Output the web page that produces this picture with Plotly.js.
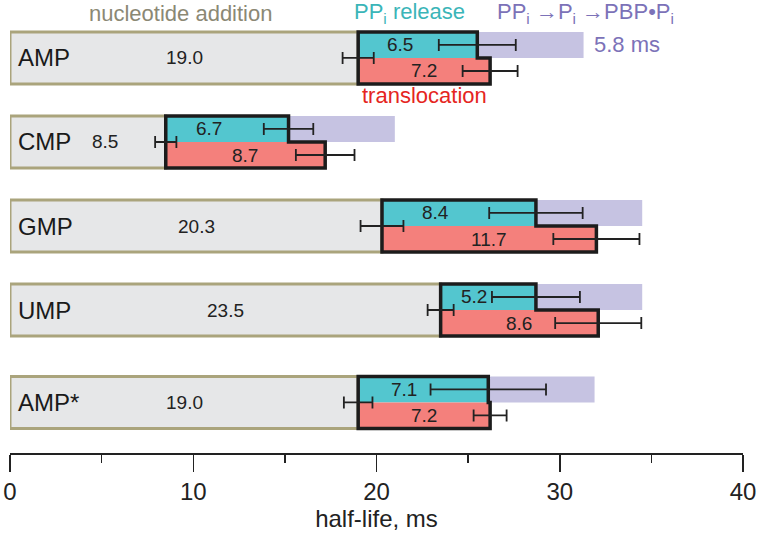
<!DOCTYPE html>
<html>
<head>
<meta charset="utf-8">
<script src="https://cdn.plot.ly/plotly-3.0.1.min.js"></script>
<style>
  body { margin: 0; background: #fff; }
  #plotArea { width: 760px; height: 540px; }
</style>
</head>
<body>
<div id="plotArea"></div>
<script>
// half-lives in ms, one row per nucleotide (AMP* = repeat condition)
let rows = ["AMP", "CMP", "GMP", "UMP", "AMP*"];
let rowGroup = [0, 0, 0, 0, 1];
let nucAdd = [19.0, 8.5, 20.3, 23.5, 19.0];
let nucErr = [0.85, 0.58, 1.17, 0.71, 0.78];
let ppiRel = [6.5, 6.7, 8.4, 5.2, 7.1];
let ppiErr = [2.1, 1.35, 2.55, 2.4, 3.15];
let transl = [7.2, 8.7, 11.7, 8.6, 7.2];
let translErr = [1.5, 1.6, 2.35, 2.35, 0.9];
let pbpTime = [5.8, 5.8, 5.8, 5.8, 5.8];
let xTicks = [0, 10, 20, 30, 40];

let font = "Liberation Sans, Arial, sans-serif";
let half = 0.155;   // offset of the upper / lower half bar
let yPos = rows.map((r, i) => i + 0.1 * rowGroup[i]);
let yTop = yPos.map(v => v - half);
let yBot = yPos.map(v => v + half);
let ppiEnd = nucAdd.map((v, i) => v + ppiRel[i]);
let trEnd = nucAdd.map((v, i) => v + transl[i]);

let grey = {
  type: "bar", orientation: "h", y: yPos, x: nucAdd, base: nucAdd.map(() => 0),
  width: 4 * half, cliponaxis: false,
  marker: { color: "#e6e7e8", line: { color: "#aaa47c", width: 3 } }
};
let purple = {
  type: "bar", orientation: "h", y: yTop, x: pbpTime, base: ppiEnd,
  width: 2 * half, marker: { color: "#c6c3e2", line: { width: 0 } }
};
let cyan = {
  type: "bar", orientation: "h", y: yTop, x: ppiRel, base: nucAdd,
  width: 2 * half, marker: { color: "#53c6cf", line: { width: 0 } }
};
let red = {
  type: "bar", orientation: "h", y: yBot, x: transl, base: nucAdd,
  width: 2 * half, marker: { color: "#f4807c", line: { width: 0 } }
};

// black step outline round the release + translocation blocks
let ox = [], oy = [];
rows.forEach((r, i) => {
  let t = yPos[i] - 2 * half, m = yPos[i], b = yPos[i] + 2 * half;
  ox.push(nucAdd[i], nucAdd[i], ppiEnd[i], ppiEnd[i], trEnd[i], trEnd[i], nucAdd[i], nucAdd[i], null);
  oy.push(m, t, t, m, m, b, b, m, null);
});
let outline = {
  type: "scatter", mode: "lines", x: ox, y: oy, cliponaxis: false,
  line: { color: "#1c1c1c", width: 3.5 }
};

function errTrace(xs, ys, errs) {
  return {
    type: "scatter", mode: "markers", x: xs, y: ys, cliponaxis: false,
    marker: { size: 1, color: "rgba(0,0,0,0)" },
    error_x: { type: "data", array: errs, color: "#222", thickness: 1.8, width: 6 }
  };
}

let data = [grey, purple, cyan, red, outline,
  errTrace(nucAdd, yPos, nucErr),
  errTrace(ppiEnd, yTop, ppiErr),
  errTrace(trEnd, yBot, translErr)];

let ann = [];
rows.forEach((r, i) => {
  ann.push({ x: 0, y: yPos[i], text: r, xanchor: "left", xshift: 6, showarrow: false,
    font: { family: font, size: 24, color: "#1a1a1a" } });
  ann.push({ x: Math.max(nucAdd[i] / 2, 5.2), y: yPos[i], text: nucAdd[i].toFixed(1), showarrow: false,
    font: { family: font, size: 19, color: "#222" } });
  ann.push({ x: nucAdd[i] + 0.35 * ppiRel[i], y: yTop[i], text: ppiRel[i].toFixed(1), showarrow: false,
    font: { family: font, size: 19, color: "#222" } });
  ann.push({ x: nucAdd[i] + transl[i] / 2, y: yBot[i], text: transl[i].toFixed(1), showarrow: false,
    font: { family: font, size: 19, color: "#222" } });
});
// legend-like labels on the first row
ann.push({ x: nucAdd[0] / 2 - 0.2, y: -0.53, text: "nucleotide addition", showarrow: false,
  font: { family: font, size: 22, color: "#8b8874" } });
ann.push({ x: 21.8, y: -0.53, text: "PP<sub>i</sub> release", showarrow: false,
  font: { family: font, size: 22, color: "#3bb5b8" } });
ann.push({ x: 31.4, y: -0.53, text: "PP<sub>i</sub> \u2192P<sub>i</sub> \u2192PBP\u2022P<sub>i</sub>", showarrow: false,
  font: { family: font, size: 22, color: "#7c72b8" } });
ann.push({ x: ppiEnd[0] + pbpTime[0], y: yTop[0], xanchor: "left", xshift: 8, text: pbpTime[0].toFixed(1) + " ms",
  showarrow: false, font: { family: font, size: 22, color: "#7c72b8" } });
ann.push({ x: trEnd[0] - transl[0] / 2, y: yPos[0] + 0.45, text: "translocation", showarrow: false,
  font: { family: font, size: 22, color: "#e52521" } });

let layout = {
  width: 760, height: 540,
  margin: { l: 10, r: 17, t: 0, b: 87 },
  paper_bgcolor: "#fff", plot_bgcolor: "#fff",
  barmode: "overlay", showlegend: false, hovermode: false,
  font: { family: font, color: "#222" },
  xaxis: {
    range: [0, 40], tickvals: xTicks, ticks: "outside", ticklen: 17, tickwidth: 1.5, tickcolor: "#222",
    showline: true, linecolor: "#222", linewidth: 1.5, showgrid: false, zeroline: false,
    tickfont: { family: font, size: 24, color: "#222" },
    minor: { dtick: 5, tick0: 0, ticks: "outside", ticklen: 8, tickwidth: 1.5, tickcolor: "#222", showgrid: false },
    title: { text: "half-life, ms", font: { family: font, size: 24, color: "#222" }, standoff: 6 }
  },
  yaxis: { range: [4.702, -0.69], visible: false, showgrid: false, zeroline: false },
  annotations: ann
};

Plotly.newPlot("plotArea", data, layout, { displayModeBar: false, staticPlot: true });
</script>
</body>
</html>
